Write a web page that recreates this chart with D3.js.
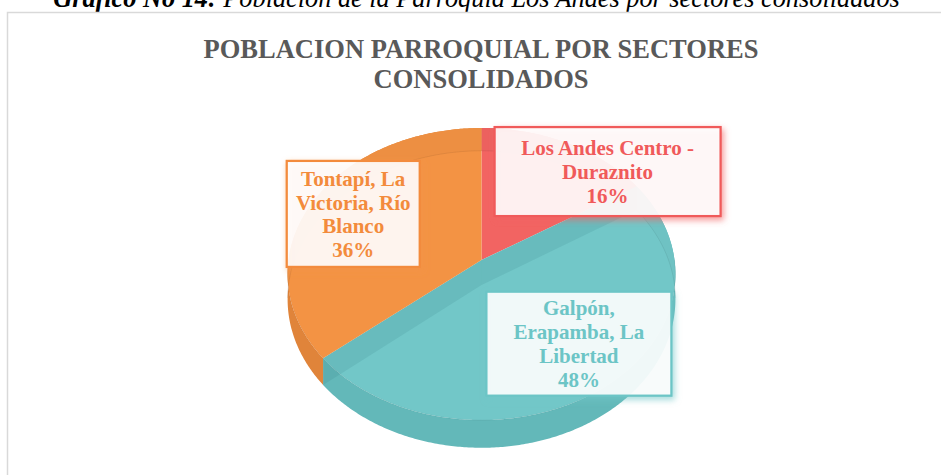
<!DOCTYPE html>
<html><head><meta charset="utf-8">
<script src="https://cdn.jsdelivr.net/npm/d3@7"></script>
<style>html,body{margin:0;padding:0;background:#fff;overflow:hidden}</style>
</head><body>
<svg id="c" width="941" height="475"></svg>
<script>
// ---- data ----
const categories = ["Los Andes Centro - Duraznito", "Galpón, Erapamba, La Libertad", "Tontapí, La Victoria, Río Blanco"];
const values = [16, 48, 36];
const labelLines = [["Los Andes Centro -", "Duraznito"], ["Galpón,", "Erapamba, La", "Libertad"], ["Tontapí, La", "Victoria, Río", "Blanco"]];
const captionBold = "Gráfico No 14:";
const captionRest = " Población de la Parroquia Los Andes por sectores consolidados";
const titleLines = ["POBLACION PARROQUIAL POR SECTORES", "CONSOLIDADOS"];

// ---- styles ----
const topColors = ["#F26462", "#72C7C8", "#F39344"];
const sideColors = ["#D9504E", "#63B8B9", "#E0843A"];
const textColors = ["#F05A5A", "#6CC5C6", "#F38B3C"];
const boxSizes = [[226, 89], [185, 104], [133, 106]];
const boxOffsets = [[73, -16], [26, 10], [-26, -10]];

const svg = d3.select("#c");
const W = 941, H = 475;
const serif = "'Liberation Serif','Times New Roman',Times,serif";

// caption (partly cut off at top)
const cap = svg.append("text").attr("y", 7).attr("font-family", serif).attr("font-style", "italic").attr("font-size", 24).attr("fill", "#000");
cap.append("tspan").attr("font-weight", "bold").text(captionBold);
cap.append("tspan").text(captionRest);
{
  const len = cap.node().getComputedTextLength();
  const target = 847;
  const fs = 24 * target / len;
  cap.attr("font-size", fs);
  const len2 = cap.node().getComputedTextLength();
  cap.attr("x", 53 + (target - len2) / 2);
}

// chart area
svg.append("rect").attr("x", 7.5).attr("y", 12.5).attr("width", 980).attr("height", 520)
  .attr("fill", "#fff").attr("stroke", "#d9d9d9").attr("stroke-width", 1.5);

// title
svg.append("g").selectAll("text").data(titleLines).join("text")
  .attr("x", 481).attr("y", (d, i) => 57.5 + i * 30.5)
  .attr("text-anchor", "middle").attr("font-family", serif).attr("font-weight", "bold")
  .attr("font-size", 26.5).attr("fill", "#595959").text(d => d);

// ---- 3D pie ----
const cx = 481.5, cy = 260, rx = 193, ry = 144.7, k = 0.0962, depth = 25;
function proj(r, a, d) {
  const c = Math.cos(a), s = 1 / (1 + k * r * c);
  return [cx + rx * r * Math.sin(a) * s, cy - ry * r * c * s + d * depth * s];
}
function arcPts(a0, a1, d) {
  const n = Math.max(2, Math.ceil(Math.abs(a1 - a0) / 0.01));
  return d3.range(n + 1).map(i => proj(1, a0 + (a1 - a0) * i / n, d));
}
const line = d3.line();
const pie = d3.pie().sort(null).startAngle(0).endAngle(2 * Math.PI)(values);
const total = d3.sum(values);
const pct = d3.format(".0%");

const gPie = svg.append("g");
// outer side walls
gPie.selectAll("path.side").data(pie).join("path").attr("class", "side")
  .attr("d", d => line(arcPts(d.startAngle, d.endAngle, 0).concat(arcPts(d.endAngle, d.startAngle, 1))) + "Z")
  .attr("fill", (d, i) => sideColors[i]);
// top faces
gPie.selectAll("path.top").data(pie).join("path").attr("class", "top")
  .attr("d", d => line([proj(0, 0, 0)].concat(arcPts(d.startAngle, d.endAngle, 0))) + "Z")
  .attr("fill", (d, i) => topColors[i]);
// translucency: back wall seen through top
const backA0 = -95 * Math.PI / 180, backA1 = 95 * Math.PI / 180;
gPie.append("path")
  .attr("d", line(arcPts(backA0, backA1, 0).concat(arcPts(backA1, backA0, 1))) + "Z")
  .attr("fill", "#000").attr("opacity", 0.025);
gPie.append("path").attr("d", line(arcPts(backA0, backA1, 1)))
  .attr("fill", "none").attr("stroke", "#000").attr("stroke-opacity", 0.07).attr("stroke-width", 1);
// translucency: radial inner walls
gPie.selectAll("path.wall").data(pie).join("path").attr("class", "wall")
  .attr("d", d => line([proj(0, d.startAngle, 0), proj(1, d.startAngle, 0), proj(1, d.startAngle, 1), proj(0, d.startAngle, 1)]) + "Z")
  .attr("fill", "#2a6f71").attr("opacity", 0.13);
// front edge line between top and side
gPie.append("path").attr("d", line(arcPts(Math.PI / 2, 3 * Math.PI / 2, 0)))
  .attr("fill", "none").attr("stroke", "#000").attr("stroke-opacity", 0.05).attr("stroke-width", 1);

// ---- labels ----
const defs = svg.append("defs");
topColors.forEach((c, i) => {
  const f = defs.append("filter").attr("id", "sh" + i).attr("x", "-20%").attr("y", "-20%").attr("width", "150%").attr("height", "160%");
  f.append("feDropShadow").attr("dx", 2).attr("dy", 3).attr("stdDeviation", 3).attr("flood-color", c).attr("flood-opacity", 0.7);
});
const gLab = svg.append("g");
pie.forEach((d, i) => {
  const mid = (d.startAngle + d.endAngle) / 2;
  const [px, py] = proj(0.6, mid, 0);
  const bx = px + boxOffsets[i][0], by = py + boxOffsets[i][1];
  const [bw, bh] = boxSizes[i];
  gLab.append("rect").attr("x", bx - bw / 2).attr("y", by - bh / 2).attr("width", bw).attr("height", bh)
    .attr("fill", "#fff").attr("fill-opacity", 0.88)
    .attr("stroke", textColors[i]).attr("stroke-width", 2.25)
    .attr("filter", `url(#sh${i})`);
  const lines = labelLines[i].concat([pct(d.data / total)]);
  const lh = 23.8;
  const t = gLab.append("text").attr("text-anchor", "middle").attr("font-family", serif)
    .attr("font-weight", "bold").attr("font-size", 21).attr("fill", textColors[i]);
  lines.forEach((s, j) => {
    t.append("tspan").attr("x", bx).attr("y", by - (lines.length - 1) / 2 * lh + 7.5 + j * lh).text(s);
  });
});
</script>
</body></html>
